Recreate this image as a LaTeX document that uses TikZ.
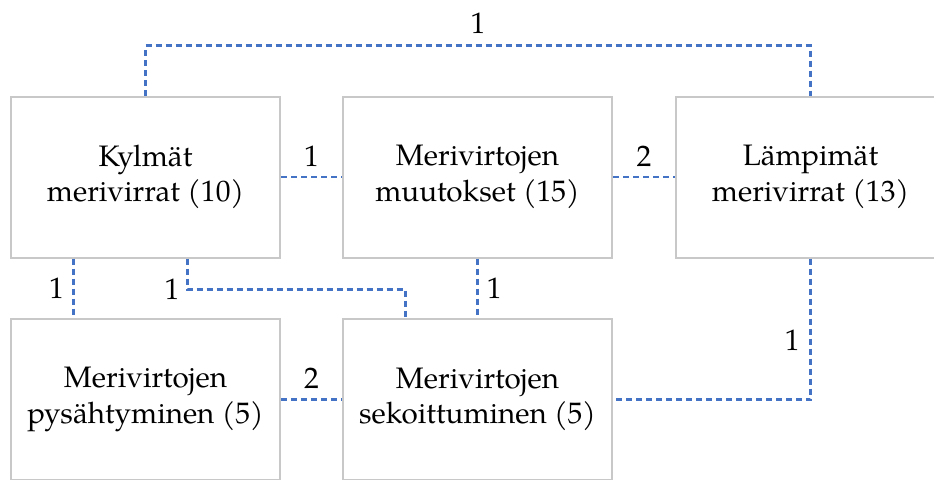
\documentclass[tikz,border=0pt]{standalone}
\usepackage{fontspec}
\setmainfont{TeX Gyre Pagella}
\definecolor{linkblue}{HTML}{4472C4}
\definecolor{boxgray}{HTML}{C8C8C8}

\begin{document}
\begin{tikzpicture}[x=0.75pt,y=-0.75pt,
                    topic/.style={draw=boxgray,line width=1.5pt,minimum width=201.75pt,minimum height=120.75pt,align=center,font=\fontsize{22.2}{26.5}\selectfont,inner sep=0pt},
                    link/.style={draw=linkblue,line width=2.2pt,dash pattern=on 4.5pt off 3pt},
                    weight/.style={font=\fontsize{22.2}{26}\selectfont,inner sep=2pt},
                   ]
  \useasboundingbox (0,0) rectangle (934,479);
  \clip (0,0) rectangle (934,479);

  \node[topic] (kylma) at (145.5, 177) {Kylmät\\merivirrat (10)};
  \node[topic] (muutos) at (477.5, 177) {Merivirtojen\\muutokset (15)};
  \node[topic] (lampima) at (810.5, 177) {Lämpimät\\merivirrat (13)};
  \node[topic] (pysahty) at (145.5, 399.5) {Merivirtojen\\pysähtyminen (5)};
  \node[topic] (sekoit) at (477.5, 399.5) {Merivirtojen\\sekoittuminen (5)};

  \draw[link] (kylma.north) -- ++(0,-50) -| node[weight,pos=0.25,above=6pt] {1} (lampima.north);
  \draw[link] (kylma.east) -- node[weight,above=5pt] {1} (muutos.west);
  \draw[link] (muutos.east) -- node[weight,above=5pt] {2} (lampima.west);
  \draw[link] ([xshift=-54pt]kylma.south) -- node[weight,left=4pt] {1} ([xshift=-54pt]kylma.south |- pysahty.north);
  \draw[link] ([xshift=31.5pt]kylma.south) -- ++(0,31) node[weight,left=3pt] {1} -| ([xshift=-54pt]sekoit.north);
  \draw[link] (muutos.south) -- node[weight,right=4pt] {1} (sekoit.north);
  \draw[link] (lampima.south) |- node[weight,pos=0.29,left=5pt] {1} (sekoit.east);
  \draw[link] (pysahty.east) -- node[weight,above=5pt] {2} (sekoit.west);
\end{tikzpicture}
\end{document}
